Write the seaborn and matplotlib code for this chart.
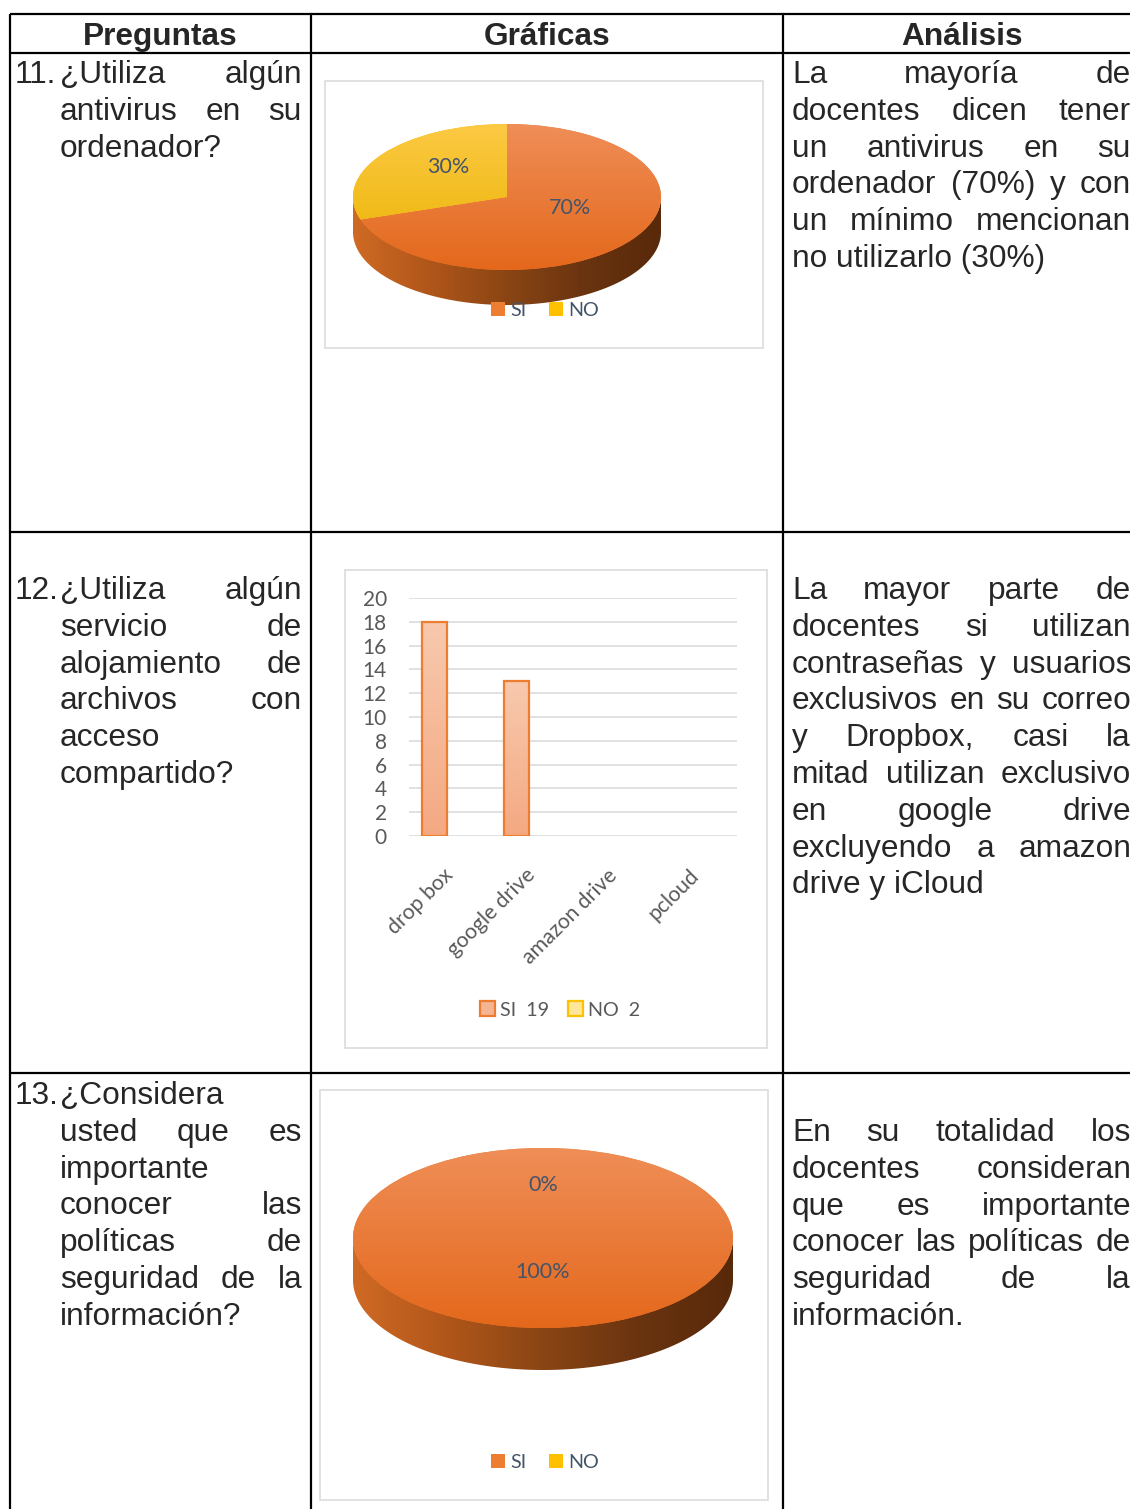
import numpy as np
import pandas as pd
import matplotlib
matplotlib.use("Agg")
import matplotlib.pyplot as plt
from matplotlib.patches import Rectangle, Polygon
from matplotlib.colors import LinearSegmentedColormap, to_rgba
from matplotlib.font_manager import FontProperties
import seaborn as sns

sns.set_style("white")
plt.rcParams["font.family"] = ["Liberation Sans", "DejaVu Sans"]

W, H = 1130, 1509

# ---------------- data ----------------
headers = ["Preguntas", "Gráficas", "Análisis"]

q_numbers = ["11.", "12.", "13."]
q11 = ["¿Utiliza algún", "antivirus en su", "ordenador?"]
q12 = ["¿Utiliza algún", "servicio de", "alojamiento de", "archivos con",
       "acceso", "compartido?"]
q13 = ["¿Considera", "usted que es", "importante", "conocer las",
       "políticas de", "seguridad de la", "información?"]

a11 = ["La mayoría de", "docentes dicen tener", "un antivirus en su",
       "ordenador (70%) y con", "un mínimo mencionan", "no utilizarlo (30%)"]
a12 = ["La mayor parte de", "docentes si utilizan", "contraseñas y usuarios",
       "exclusivos en su correo", "y Dropbox, casi la",
       "mitad utilizan exclusivo", "en google drive", "excluyendo a amazon",
       "drive y iCloud"]
a13 = ["En su totalidad los", "docentes consideran", "que es importante",
       "conocer las políticas de", "seguridad de la", "información."]

antivirus_labels = ["SI", "NO"]
antivirus_values = [70, 30]

storage_services = ["drop box", "google drive", "amazon drive", "pcloud"]
storage_series = ["SI  19", "NO  2"]
storage_si = [18, 13, 0, 0]
storage_no = [0, 0, 0, 0]

policy_labels = ["SI", "NO"]
policy_values = [100, 0]

# ---------------- figure & table ----------------
fig = plt.figure(figsize=(W / 100, H / 100), dpi=100)
bg = fig.add_axes([0, 0, 1, 1])
bg.set_xlim(0, W)
bg.set_ylim(H, 0)
bg.axis("off")
renderer = fig.canvas.get_renderer()


def fig_box(x0, y0, x1, y1):
    return [x0 / W, 1 - y1 / H, (x1 - x0) / W, (y1 - y0) / H]


LW = 1.6
for y in [14, 53, 532, 1073]:
    bg.plot([10, W], [y, y], color="black", lw=LW, solid_capstyle="butt")
for x in [10, 311, 783]:
    bg.plot([x, x], [14, H], color="black", lw=LW, solid_capstyle="butt")

head_fp = FontProperties(family="Liberation Sans", weight="bold", size=22.8)
body_fp = FontProperties(family="Liberation Sans", size=22.8)

for hx, h in zip([160, 547, 962], headers):
    bg.text(hx, 45, h, fontproperties=head_fp, ha="center", va="baseline")


def text_w(s):
    return renderer.get_text_width_height_descent(s, body_fp, ismath=False)[0]


def paragraph(lines, x0, x1, y0, pitch=36.8):
    """Justified paragraph; the last line stays flush left."""
    for i, line in enumerate(lines):
        y = y0 + i * pitch
        words = line.split()
        if i == len(lines) - 1 or len(words) == 1:
            bg.text(x0, y, line, fontproperties=body_fp, ha="left", va="baseline")
            continue
        widths = [text_w(w) for w in words]
        gap = (x1 - x0 - sum(widths)) / (len(words) - 1)
        x = x0
        for j, (w, wd) in enumerate(zip(words, widths)):
            if j == len(words) - 1:
                bg.text(x1, y, w, fontproperties=body_fp, ha="right", va="baseline")
            else:
                bg.text(x, y, w, fontproperties=body_fp, ha="left", va="baseline")
            x += wd + gap


for num, lines, yb in zip(q_numbers, [q11, q12, q13], [83, 599, 1104]):
    bg.text(15, yb, num, fontproperties=body_fp, ha="left", va="baseline")
    paragraph(lines, 60, 302, yb)

paragraph(a11, 792, 1131, 83)
paragraph(a12, 792, 1131, 599)
paragraph(a13, 792, 1131, 1141)

# chart frames
for (x0, y0, x1, y1) in [(325, 81, 763, 348), (345, 570, 767, 1048),
                         (320, 1090, 768, 1500)]:
    bg.add_patch(Rectangle((x0, y0), x1 - x0, y1 - y0, fill=False,
                           edgecolor="#D9D9D9", lw=1.1))

# ---------------- 3D pies ----------------
PIE_COLORS = ["#ED7D31", "#FFC000"]
FACE_GRAD = [("#EF8E58", "#E4681B"), ("#FCC944", "#E9B300")]
SIDE_CMAP = LinearSegmentedColormap.from_list(
    "pie_side", ["#CF6A24", "#B0561A", "#8A4514", "#6A3410", "#58290A"])
lab_fp = dict(color="#44546A", fontsize=15.5, family="Lato")
leg_fp = FontProperties(family="Lato", size=14.2)


def vertical_gradient(c_top, c_bot, n=256):
    t = np.linspace(0, 1, n)[:, None]
    a, b = np.array(to_rgba(c_top)), np.array(to_rgba(c_bot))
    return (a[None, :] * (1 - t) + b[None, :] * t)[:, None, :]


def pie3d(values, names, cx, cy, rx, ry, depth, label_px, legend_xy):
    m = 1.08
    ax = fig.add_axes(fig_box(cx - m * rx, cy - m * ry, cx + m * rx, cy + m * ry + depth))
    t = depth / ry
    wedges, _, autotexts = ax.pie(
        values, colors=PIE_COLORS, startangle=90, counterclock=False,
        autopct=lambda p: f"{p:.0f}%", textprops=lab_fp,
        wedgeprops=dict(linewidth=0))
    ax.set_aspect("auto")

    # cylindrical wall under the front half of the disc
    th = np.radians(np.linspace(180, 360, 300))
    xs, ys = np.cos(th), np.sin(th)
    verts = np.concatenate([np.c_[xs, ys * 0.97], np.c_[xs[::-1], ys[::-1] - t]])
    wall = Polygon(verts, closed=True)
    wall.set_transform(ax.transData)
    im = ax.imshow(np.linspace(0, 1, 256)[None, :], cmap=SIDE_CMAP,
                   extent=(-1, 1, -1 - t, 0), aspect="auto", zorder=1)
    im.set_clip_path(wall)

    # shaded top face
    for wdg, (ctop, cbot) in zip(wedges, FACE_GRAD):
        wdg.set_zorder(2)
        im = ax.imshow(vertical_gradient(ctop, cbot), extent=(-1, 1, -1, 1),
                       aspect="auto", origin="upper", zorder=2.1)
        im.set_clip_path(wdg)

    for txt, (px, py) in zip(autotexts, label_px):
        txt.set_position(((px - cx) / rx, (cy - py) / ry))
        txt.set_zorder(5)

    ax.set_xlim(-m, m)
    ax.set_ylim(-m - t, m)
    ax.axis("off")
    ax.legend(wedges, names, loc="center",
              bbox_to_anchor=(legend_xy[0] / W, 1 - legend_xy[1] / H),
              bbox_transform=fig.transFigure, ncol=2, frameon=False,
              handlelength=0.72, handleheight=0.72, handletextpad=0.27,
              columnspacing=1.15, prop=leg_fp, labelcolor="#44546A",
              borderpad=0)
    return ax


pie3d(antivirus_values, antivirus_labels, 507, 197, 154, 73, 35,
      [(570, 208), (448, 167)], (545, 310))
pie3d(policy_values, policy_labels, 543, 1238, 190, 90, 42,
      [(543, 1272), (543, 1185)], (545, 1462))

# ---------------- clustered bars ----------------
axb = fig.add_axes(fig_box(409, 598, 737, 836))
axb.set_facecolor("none")
df = pd.DataFrame({
    "servicio": storage_services * 2,
    "serie": [storage_series[0]] * len(storage_services) + [storage_series[1]] * len(storage_services),
    "usuarios": storage_si + storage_no,
})
sns.barplot(data=df, x="servicio", y="usuarios", hue="serie",
            palette=["#F5B592", "#FFE699"], saturation=1, width=0.76, gap=0.18,
            errorbar=None, linewidth=1.6, ax=axb)
edge_cols = ["#ED7D31", "#FFC000"]
for cont, ec in zip(axb.containers, edge_cols):
    for p in cont:
        p.set_edgecolor(ec)

axb.legend(handles=[axb.containers[0][0], axb.containers[1][0]],
           labels=storage_series, loc="center",
           bbox_to_anchor=(560 / W, 1 - 1010 / H), bbox_transform=fig.transFigure,
           ncol=2, frameon=False, handlelength=0.75, handleheight=0.75,
           handletextpad=0.25, columnspacing=0.95,
           prop=FontProperties(family="Lato", size=14.2), labelcolor="#595959",
           borderpad=0)

# empty bars leave no outline on the baseline
for cont in axb.containers:
    for p in cont:
        if p.get_height() == 0:
            p.set_linewidth(0)

for p in axb.containers[0]:
    h = p.get_height()
    if h <= 0:
        continue
    x0, w = p.get_x(), p.get_width()
    p.set_facecolor("none")
    im = axb.imshow(vertical_gradient("#F8C9AE", "#F4A982"),
                    extent=(x0, x0 + w, 0, h), aspect="auto", origin="upper",
                    zorder=p.get_zorder() - 0.05)
    im.set_clip_path(p)

axb.set_xlim(-0.5, len(storage_services) - 0.5)
axb.set_ylim(0, 20)
axb.set_yticks(range(0, 21, 2))
axb.set_xlabel("")
axb.set_ylabel("")
sns.despine(ax=axb, left=True, bottom=True)
axb.set_axisbelow(True)
axb.yaxis.grid(True, color="#D9D9D9", lw=1.1)
axb.xaxis.grid(False)
axb.tick_params(axis="y", length=0, pad=16, labelcolor="#595959", labelsize=15)
axb.tick_params(axis="x", length=0, pad=26, labelcolor="#595959", labelsize=15.3)
for lbl in axb.get_yticklabels():
    lbl.set_fontfamily("Lato")
for lbl in axb.get_xticklabels():
    lbl.set_fontfamily("Lato")
    lbl.set_rotation(45)
    lbl.set_ha("right")
    lbl.set_va("center")
    lbl.set_rotation_mode("anchor")

fig.savefig("out.png", dpi=100)
